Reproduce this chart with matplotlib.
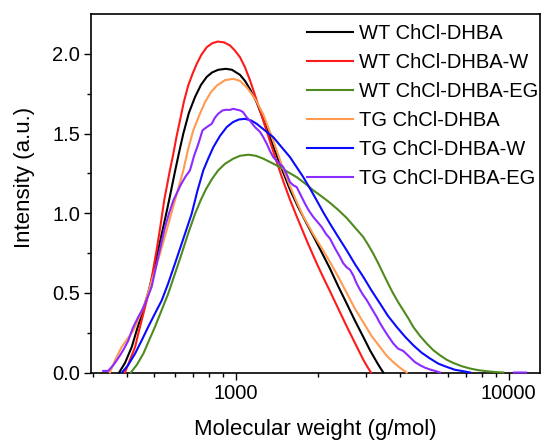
import numpy as np
import matplotlib
matplotlib.use("Agg")
import matplotlib.pyplot as plt
from matplotlib.ticker import FixedLocator, NullFormatter

plt.rcParams['font.family'] = ['Liberation Sans', 'DejaVu Sans']

labels = ["WT ChCl-DHBA", "WT ChCl-DHBA-W", "WT ChCl-DHBA-EG",
          "TG ChCl-DHBA", "TG ChCl-DHBA-W", "TG ChCl-DHBA-EG"]
colors = ["#000000", "#ff1a1a", "#4f8a1e", "#ff9a50", "#0a0aff", "#8b2bff"]

wt_mw = [374, 393, 416, 433, 452, 478, 496, 513, 543, 570, 599, 620, 643, 674,
         710, 746, 783, 819, 863, 921, 969, 1037, 1082, 1128, 1194, 1262, 1317,
         1373, 1474, 1581, 1692, 1820, 1920, 2037, 2216, 2377, 2551, 2736, 2935,
         3105, 3286, 3379, 3474]
wt_int = [0, 0.06, 0.16, 0.26, 0.36, 0.50, 0.61, 0.725, 0.913, 1.08, 1.26, 1.38,
          1.50, 1.63, 1.73, 1.805, 1.855, 1.883, 1.90, 1.906, 1.90, 1.868, 1.83,
          1.778, 1.695, 1.59, 1.505, 1.42, 1.28, 1.148, 1.04, 0.935, 0.86,
          0.775, 0.652, 0.54, 0.433, 0.325, 0.223, 0.14, 0.066, 0.032, 0]

wtw_mw = [393, 410, 428, 442, 459, 485, 513, 530, 547, 574, 591, 607, 625, 646,
          670, 695, 720, 749, 783, 819, 859, 906, 953, 994, 1037, 1082, 1128,
          1177, 1228, 1280, 1336, 1405, 1494, 1581, 1673, 1764, 1845, 1981,
          2089, 2216, 2377, 2551, 2736, 2935, 3027, 3131]
wtw_int = [0, 0.08, 0.16, 0.26, 0.37, 0.53, 0.767, 0.92, 1.08, 1.269, 1.373,
           1.48, 1.582, 1.70, 1.801, 1.875, 1.937, 1.995, 2.041, 2.066, 2.077,
           2.072, 2.053, 2.02, 1.979, 1.915, 1.835, 1.74, 1.645, 1.548, 1.45,
           1.335, 1.20, 1.085, 0.98, 0.885, 0.805, 0.685, 0.60, 0.51, 0.40,
           0.29, 0.185, 0.08, 0.04, 0]

wteg_mw = [413, 435, 459, 481, 506, 535, 566, 599, 634, 669, 710, 746, 778, 819,
           863, 914, 980, 1037, 1113, 1187, 1262, 1347, 1453, 1554, 1673, 1794,
           1925, 2066, 2216, 2377, 2551, 2736, 2935, 3061, 3192, 3331, 3474,
           3625, 3780, 3943, 4114, 4291, 4475, 4734, 5010, 5298, 5606, 5933,
           6272, 6720, 7222, 7725, 8313, 8916, 9563]
wteg_int = [0, 0.05, 0.119, 0.20, 0.286, 0.39, 0.495, 0.62, 0.746, 0.87, 0.997,
            1.085, 1.15, 1.215, 1.269, 1.31, 1.342, 1.36, 1.367, 1.36, 1.342,
            1.318, 1.289, 1.258, 1.226, 1.187, 1.143, 1.105, 1.065, 1.02, 0.97,
            0.91, 0.85, 0.80, 0.746, 0.685, 0.62, 0.555, 0.495, 0.44, 0.39,
            0.34, 0.286, 0.23, 0.182, 0.14, 0.108, 0.08, 0.06, 0.04, 0.025,
            0.015, 0.008, 0.003, 0]

tg_mw = [346, 361, 382, 401, 422, 439, 459, 485, 506, 528, 562, 599, 643, 669,
         699, 734, 772, 812, 852, 914, 980, 1037, 1097, 1143, 1194, 1262, 1317,
         1373, 1474, 1581, 1673, 1769, 1920, 2094, 2216, 2377, 2551, 2736,
         2935, 3145, 3379, 3575, 3780, 3997, 4233]
tg_int = [0, 0.075, 0.16, 0.21, 0.265, 0.33, 0.41, 0.537, 0.64, 0.746, 0.91,
          1.08, 1.269, 1.40, 1.519, 1.61, 1.697, 1.76, 1.80, 1.835, 1.843, 1.83,
          1.79, 1.75, 1.70, 1.62, 1.537, 1.455, 1.305, 1.17, 1.07, 0.98, 0.87,
          0.765, 0.693, 0.60, 0.50, 0.40, 0.315, 0.23, 0.16, 0.105, 0.065, 0.03, 0]

tgw_mw = [383, 403, 428, 452, 478, 506, 536, 566, 599, 643, 690, 724, 761, 792,
          828, 876, 927, 978, 1028, 1082, 1138, 1194, 1280, 1373, 1472, 1581,
          1671, 1769, 1872, 1981, 2094, 2216, 2377, 2551, 2736, 2935, 3145,
          3379, 3615, 3890, 4173, 4475, 4795, 5152, 5535, 5933, 6364, 6823, 7222]
tgw_int = [0, 0.045, 0.119, 0.20, 0.286, 0.37, 0.453, 0.56, 0.683, 0.84, 0.997,
           1.14, 1.269, 1.34, 1.414, 1.485, 1.54, 1.572, 1.588, 1.592, 1.582,
           1.561, 1.519, 1.477, 1.415, 1.352, 1.29, 1.226, 1.155, 1.08, 1.005,
           0.934, 0.85, 0.767, 0.68, 0.60, 0.515, 0.433, 0.355, 0.286, 0.225,
           0.171, 0.125, 0.088, 0.055, 0.035, 0.017, 0.008, 0]

tgeg_mw = [327, 341, 356, 366, 377, 390, 404, 420, 440, 452, 465, 492, 520, 551,
           570, 591, 630, 655, 680, 704, 730, 756, 783, 817, 840, 863, 895, 927,
           953, 978, 1007, 1037, 1063, 1097, 1128, 1177, 1228, 1262, 1299, 1336,
           1373, 1429, 1494, 1542, 1581, 1626, 1673, 1735, 1794, 1856, 1925,
           1994, 2066, 2142, 2216, 2311, 2411, 2480, 2551, 2623, 2696, 2776,
           2853, 2935, 3020, 3105, 3192, 3286, 3379, 3474, 3615, 3780, 3933,
           4114, 4233, 4352, 4539, 4734, 4941, 5152, 5373, 5606,
           np.nan, 10470, 11580]
tgeg_int = [0.01, 0.01, 0.046, 0.075, 0.108, 0.15, 0.20, 0.28, 0.35, 0.385,
            0.43, 0.537, 0.725, 0.913, 1.00, 1.08, 1.18, 1.23, 1.269, 1.36,
            1.436, 1.52, 1.54, 1.561, 1.60, 1.624, 1.645, 1.649, 1.648, 1.655,
            1.65, 1.645, 1.635, 1.602, 1.58, 1.54, 1.51, 1.477, 1.436, 1.39,
            1.352, 1.32, 1.289, 1.24, 1.195, 1.175, 1.164, 1.11, 1.06, 1.015,
            0.976, 0.945, 0.913, 0.87, 0.84, 0.78, 0.725, 0.685, 0.66, 0.645,
            0.61, 0.558, 0.52, 0.485, 0.455, 0.42, 0.385, 0.349, 0.31, 0.276,
            0.23, 0.182, 0.15, 0.135, 0.115, 0.095, 0.065, 0.046, 0.03, 0.019,
            0.01, 0,
            np.nan, 0, 0]

series = [(wt_mw, wt_int), (wtw_mw, wtw_int), (wteg_mw, wteg_int),
          (tg_mw, tg_int), (tgw_mw, tgw_int), (tgeg_mw, tgeg_int)]

fig = plt.figure(figsize=(5.41, 4.41), dpi=100)
ax = fig.add_axes([91.4 / 541, (441 - 372.5) / 441, (539.5 - 91.4) / 541, (372.5 - 14) / 441])

for (mw, inten), lab, col in zip(series, labels, colors):
    ax.plot(mw, inten, color=col, lw=1.5, label=lab, clip_on=False, zorder=3)

ax.set_xscale('log')
ax.set_xlim(296, 12980)
ax.set_ylim(0, 2.25)

ax.xaxis.set_major_locator(FixedLocator([1000, 10000]))
ax.set_xticklabels(["1000", "10000"])
ax.xaxis.set_minor_locator(FixedLocator([300, 400, 500, 600, 700, 800, 900,
                                         2000, 3000, 4000, 5000, 6000, 7000, 8000, 9000]))
ax.xaxis.set_minor_formatter(NullFormatter())
ax.set_yticks([0, 0.5, 1.0, 1.5, 2.0])
ax.set_yticklabels(["0.0", "0.5", "1.0", "1.5", "2.0"])
ax.set_yticks([0.25, 0.75, 1.25, 1.75], minor=True)

ax.tick_params(which='major', direction='out', length=5, width=1, labelsize=14.5, pad=3)
ax.tick_params(which='minor', direction='out', length=3, width=1)
for sp in ax.spines.values():
    sp.set_linewidth(1.2)

ax.set_xlabel("Molecular weight (g/mol)", fontsize=16, labelpad=12)
ax.set_ylabel("Intensity (a.u.)", fontsize=16)
ax.yaxis.set_label_coords(-0.125, 0.545)

leg = ax.legend(loc='upper right', bbox_to_anchor=(1.02, 1.0), frameon=False,
                fontsize=14.5, handlelength=2.3, handletextpad=0.3,
                labelspacing=0.5, borderaxespad=0.1)

fig.savefig("out.png", dpi=100)
